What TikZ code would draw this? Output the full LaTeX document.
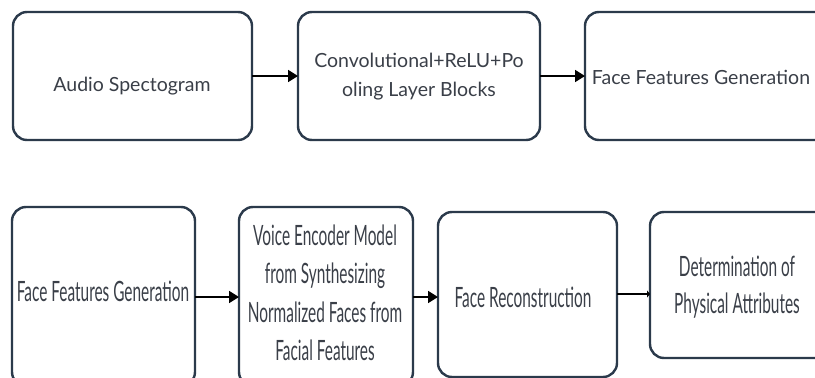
\documentclass[tikz,border=0pt]{standalone}
\usepackage{fontspec}
\setmainfont{Lato}
\newfontfamily\condfont[FakeStretch=0.55]{Lato}
\usetikzlibrary{arrows.meta}
\definecolor{boxline}{HTML}{2B3A4B}
\definecolor{txt}{HTML}{3A3F48}
\tikzset{
  blk/.style={draw=boxline, line width=2.4pt, rounded corners=14pt, fill=white},
  toptext/.style={text=txt, font=\fontsize{19.5}{29}\selectfont, align=center, inner sep=0pt},
  bottext/.style={text=txt, font=\condfont\fontsize{28}{38.5}\selectfont, align=center, inner sep=0pt},
  conn/.style={line width=1.8pt, -{Triangle[length=10pt,width=12pt]}}
}
\begin{document}
\begin{tikzpicture}[x=1pt,y=-1pt]
\useasboundingbox (0,0) rectangle (815,378);
\fill[white] (0,0) rectangle (815,378);
\clip (0,0) rectangle (815,378);
% top row boxes
\draw[blk] (13,12) rectangle (252,140);
\draw[blk] (298,12) rectangle (540,140);
\draw[blk] (585,12) rectangle (835,140);
% bottom row boxes
\draw[blk] (12,207) rectangle (195,386);
\draw[blk] (239,207) rectangle (413,386);
\draw[blk] (438,212) rectangle (617,377);
\draw[blk] (650,212) rectangle (835,358);
% anchor coordinates
\coordinate (b1r) at (252,76);
\coordinate (b2l) at (298,76);
\coordinate (b2r) at (540,76);
\coordinate (b3l) at (585,76);
\coordinate (b4r) at (195,297);
\coordinate (b5l) at (239,297);
\coordinate (b5r) at (413,297);
\coordinate (b6l) at (438,297);
\coordinate (b6r) at (617,294);
\coordinate (b7l) at (650,294);
% texts
\node[toptext] (t1) at (132,86) {Audio Spectogram};
\node[toptext] (t2) at (419,77) {Convolutional+ReLU+Po\\oling Layer Blocks};
\node[toptext] (t3) at (701,77) {Face Features Generation};
\node[bottext] (t4) at (103,291) {Face Features Generation};
\node[bottext] (t5) at (325,293) {Voice Encoder Model\\from Synthesizing\\Normalized Faces from\\Facial Features};
\node[bottext] (t6) at (523,297) {Face Reconstruction};
\node[bottext, font=\condfont\fontsize{28}{37}\selectfont] (t7) at (737,287) {Determination of\\Physical Attributes};
% connectors
\draw[conn] (b1r) -- (b2l);
\draw[conn] (b2r) -- (b3l);
\draw[conn] (b4r) -- (b5l);
\draw[conn] (b5r) -- (b6l);
\draw[line width=1.8pt, -{Triangle[length=3pt,width=7pt]}] (b6r) -- (b7l);
\end{tikzpicture}
\end{document}
